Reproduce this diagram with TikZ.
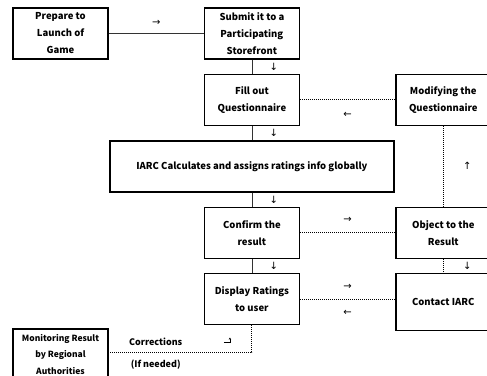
\documentclass[tikz,border=0pt]{standalone}
\usepackage{fontspec}
\setmainfont{Noto Sans CJK KR}
\newfontfamily\arrfont{DejaVu Sans}
\usetikzlibrary{positioning,calc,arrows.meta}

\begin{document}
\begin{tikzpicture}[
    x=1pt, y=-1pt,
    node distance=14pt and 95pt,
    bx/.style={rectangle, draw=black, line width=1.4pt, align=center, minimum height=51pt, minimum width=95pt, inner sep=2pt, font=\fontsize{9.5}{17}\selectfont\bfseries},
    ln/.style={draw=black!80, line width=0.8pt},
    dl/.style={draw=black, line width=0.9pt, dash pattern=on 0.9pt off 1.1pt},
    ar/.style={font=\fontsize{10}{10}\arrfont, inner sep=0pt},
    lb/.style={font=\fontsize{9}{10}\selectfont\bfseries, inner sep=0pt}
]
    \useasboundingbox (0,0) rectangle (487,375);

    \node [bx] (prep) at (60.5,33.5) {Prepare to\\Launch of\\Game};
    \node [bx, right=of prep] (sub) {Submit it to a\\Participating\\Storefront};
    \node [bx, below=of sub] (fill) {Fill out\\Questionnaire};
    \node [bx, right=of fill] (mod) {Modifying the\\Questionnaire};
    \node [bx, below=of fill, minimum width=284pt] (iarc) {IARC Calculates and assigns ratings info globally};
    \node [bx, below=of iarc] (conf) {Confirm the\\result};
    \node [bx, right=of conf] (obj) {Object to the\\Result};
    \node [bx, below=of conf] (disp) {Display Ratings\\to user};
    \node [bx, right=of disp, minimum height=57pt, yshift=-3pt] (cont) {Contact IARC};
    \node [bx, font=\fontsize{8.5}{16.5}\selectfont\bfseries] (mon) at (60.5,354.5) {Monitoring Result\\by Regional\\Authorities};

    % main flow
    \draw [ln] (prep) -- node [ar, yshift=11pt] (a1) {→} (sub);
    \draw [ln] (sub) -- node [ar, xshift=22pt] (a2) {↓} (fill);
    \draw [ln] (fill) -- node [ar, xshift=22pt] (a3) {↓} (iarc);
    \draw [ln] (iarc) -- node [ar, xshift=22pt] (a4) {↓} (conf);
    \draw [ln] (conf) -- node [ar, xshift=22pt] (a5) {↓} (disp);

    % objection loop
    \draw [dl] (mod) -- node [ar, yshift=-15pt] (a6) {←} (fill);
    \draw [dl] (obj) -- node [ar, xshift=24pt] (a7) {↑} (mod);
    \draw [dl] (conf) -- node [ar, yshift=13pt] (a8) {→} (obj);
    \draw [dl] (obj) -- node [ar, xshift=24pt] (a9) {↓} (cont);
    \draw [dl] (disp.east) -- node [ar, yshift=12pt] (a10) {→} node [ar, yshift=-14pt] (a11) {←} (disp.east -| cont.west);

    % corrections
    \draw [dl] (disp.south) |- coordinate [pos=0.5] (bend) ([yshift=2.5pt]mon.east);
    \node [lb] (corr) at ([xshift=47pt, yshift=12.5pt]mon.east) {Corrections};
    \node [lb] (need) at ([xshift=47pt, yshift=-10.5pt]mon.east) {(If needed)};
    \coordinate (hk) at ([xshift=-22pt, yshift=10pt]bend);
    \draw [line width=0.7pt, -{Stealth[length=2.2pt, width=2.4pt]}] ([xshift=-6pt]hk) -- (hk) -- ([yshift=4.5pt]hk);
\end{tikzpicture}
\end{document}
